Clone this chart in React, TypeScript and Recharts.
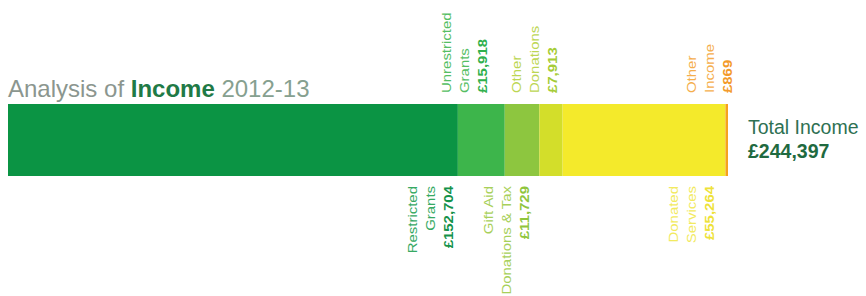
import React from "react";
import { BarChart, Bar, XAxis, YAxis, LabelList } from "recharts";

// ---- data ----
const categories = [
  "Restricted Grants",
  "Unrestricted Grants",
  "Gift Aid Donations & Tax",
  "Other Donations",
  "Donated Services",
  "Other Income",
];
const values = [152704, 15918, 11729, 7913, 55264, 869];
const labelLines = [
  ["Restricted", "Grants"],
  ["Unrestricted", "Grants"],
  ["Gift Aid", "Donations & Tax"],
  ["Other", "Donations"],
  ["Donated", "Services"],
  ["Other", "Income"],
];
const amountLabels = ["£152,704", "£15,918", "£11,729", "£7,913", "£55,264", "£869"];
const totalValue = 244397;
const totalLabel = "£244,397";
const titleParts = ["Analysis of ", "Income", " 2012-13"];

// ---- styling ----
const barColors = ["#0b9444", "#3db54b", "#8dc63f", "#d3de2a", "#f4ea2b", "#f6a21c"];
const labelColors = ["#36a963", "#55be63", "#a8d05a", "#bcd653", "#f2ea60", "#f5ae4c"];
const amountColors = ["#14924a", "#2fb04c", "#8fc53c", "#a5cc36", "#eee23a", "#f39a2a"];
const labelSide = ["below", "above", "below", "above", "below", "above"];
const labelDx = [-10, -22, -15, -10, -16, -1];

const keys = categories.map((_, i) => `s${i}`);
const row: Record<string, any> = { name: "Income" };
keys.forEach((k, i) => (row[k] = values[i]));
const data = [row];

const FONT = "'Liberation Sans', Arial, Helvetica, sans-serif";
const LINE_GAP = 18;

function makeLabel(i: number) {
  return (p: any) => {
    const x = Number(p.x);
    const y = Number(p.y);
    const w = Number(p.width);
    const h = Number(p.height);
    const right = x + w + labelDx[i];
    const lines = [...labelLines[i], amountLabels[i]];
    const n = lines.length;
    const above = labelSide[i] === "above";
    const ty = above ? y - 11 : y + h + 10;
    return (
      <g>
        {lines.map((t, k) => {
          const cx = right - (n - 1 - k) * LINE_GAP;
          const isAmt = k === n - 1;
          return (
            <text
              key={k}
              transform={`translate(${cx},${ty}) rotate(-90) scale(1.15,1)`}
              x={0}
              y={0}
              textAnchor={above ? "start" : "end"}
              dominantBaseline="central"
              fontFamily={FONT}
              fontSize={13}
              fontWeight={isAmt ? "bold" : "normal"}
              fill={isAmt ? amountColors[i] : labelColors[i]}
            >
              {t}
            </text>
          );
        })}
      </g>
    );
  };
}

export default function App() {
  return (
    <div style={{ position: "absolute", left: 0, top: 0, width: 866, height: 296, background: "#fff" }}>
      <BarChart
        width={866}
        height={296}
        data={data}
        layout="vertical"
        margin={{ top: 96, right: 138, bottom: 112, left: 8 }}
        barCategoryGap={0}
      >
        <XAxis type="number" domain={[0, totalValue]} allowDataOverflow hide />
        <YAxis type="category" dataKey="name" hide />
        {keys.map((k, i) => (
          <Bar
            key={k}
            dataKey={k}
            name={categories[i]}
            stackId="a"
            fill={barColors[i]}
            barSize={72}
            isAnimationActive={false}
          >
            <LabelList dataKey={k} content={makeLabel(i)} />
          </Bar>
        ))}
      </BarChart>
      <svg
        width={866}
        height={296}
        style={{ position: "absolute", left: 0, top: 0, pointerEvents: "none" }}
      >
        <text x={8} y={97} fontFamily={FONT} fontSize={24}>
          <tspan fill="#8b968f">{titleParts[0]}</tspan>
          <tspan fill="#1f7a46" fontWeight="bold">{titleParts[1]}</tspan>
          <tspan fill="#86a08f">{titleParts[2]}</tspan>
        </text>
        <text x={748} y={134} fontFamily={FONT} fontSize={19.5} fill="#2e7153">
          Total Income
        </text>
        <text x={748} y={158} fontFamily={FONT} fontSize={19.5} fontWeight="bold" fill="#1f6a40">
          {totalLabel}
        </text>
      </svg>
    </div>
  );
}
